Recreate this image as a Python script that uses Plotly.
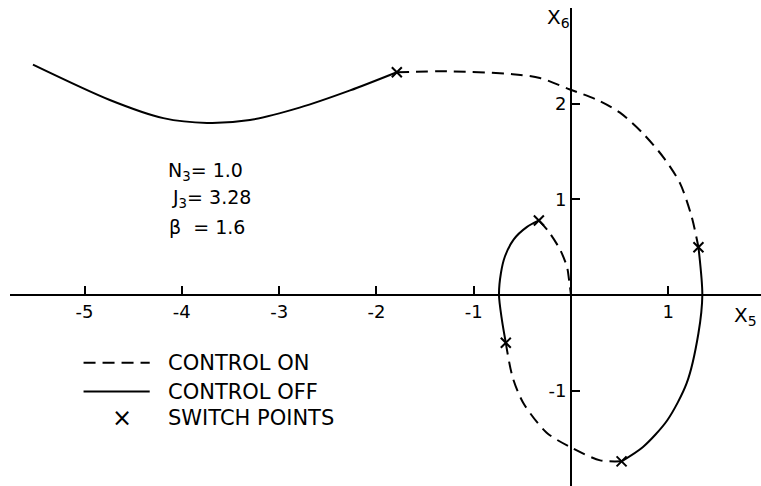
import plotly.graph_objects as go

# Trajectory in the X5-X6 phase plane, split into control-off (solid) and control-on (dashed) arcs
off1_x = [-5.53, -4.74, -4.19, -3.74, -3.30, -2.79, -2.27, -1.79]
off1_y = [2.41, 2.04, 1.85, 1.80, 1.83, 1.96, 2.14, 2.33]

on1_x = [-1.79, -1.27, -0.60, -0.32, -0.01, 0.27, 0.50, 0.74, 0.95, 1.12, 1.24, 1.31]
on1_y = [2.33, 2.34, 2.31, 2.27, 2.15, 2.04, 1.91, 1.69, 1.44, 1.17, 0.82, 0.50]

off2_x = [1.31, 1.35, 1.31, 1.19, 0.99, 0.74, 0.52]
off2_y = [0.50, 0.00, -0.40, -0.92, -1.31, -1.59, -1.74]

on2_x = [0.52, 0.30, 0.01, -0.25, -0.49, -0.60, -0.67]
on2_y = [-1.74, -1.73, -1.60, -1.44, -1.13, -0.86, -0.50]

off3_x = [-0.67, -0.71, -0.74, -0.72, -0.68, -0.59, -0.455, -0.33]
off3_y = [-0.50, -0.26, 0.00, 0.23, 0.40, 0.58, 0.71, 0.78]

on3_x = [-0.33, -0.22, -0.11, -0.04, -0.02, 0.00]
on3_y = [0.78, 0.65, 0.47, 0.29, 0.16, 0.00]

switch_x = [-1.79, 1.31, 0.52, -0.67, -0.33]
switch_y = [2.33, 0.50, -1.74, -0.50, 0.78]

x_ticks = [-5, -4, -3, -2, -1, 1]
y_ticks = [-1, 1, 2]

X_RANGE = [-5.766, 1.953]
Y_RANGE = [-1.998, 3.002]

FONT = "DejaVu Sans"
INK = "black"
DASH = "12px,7px"

fig = go.Figure()

segments = [
    (off1_x, off1_y, "solid"),
    (on1_x, on1_y, DASH),
    (off2_x, off2_y, "solid"),
    (on2_x, on2_y, DASH),
    (off3_x, off3_y, "solid"),
    (on3_x, on3_y, DASH),
]
for sx, sy, dash in segments:
    fig.add_trace(go.Scatter(
        x=sx, y=sy, mode="lines",
        line=dict(color=INK, width=2, dash=dash, shape="spline", smoothing=0.8),
        showlegend=False, hoverinfo="skip",
    ))

fig.add_trace(go.Scatter(
    x=switch_x, y=switch_y, mode="markers",
    marker=dict(symbol="x-thin-open", size=10, color=INK,
                line=dict(color=INK, width=2)),
    showlegend=False, hoverinfo="skip",
))

# axes cross at the origin
x0_frac = (0 - X_RANGE[0]) / (X_RANGE[1] - X_RANGE[0])
y0_frac = (0 - Y_RANGE[0]) / (Y_RANGE[1] - Y_RANGE[0])

fig.update_xaxes(
    range=X_RANGE, anchor="free", position=y0_frac, side="bottom",
    showline=True, linecolor=INK, linewidth=2,
    showgrid=False, zeroline=False,
    tickmode="array", tickvals=x_ticks, ticktext=[str(t) for t in x_ticks],
    ticks="inside", ticklen=8, tickwidth=2, tickcolor=INK,
    tickfont=dict(family=FONT, size=18, color=INK),
)
fig.update_yaxes(
    range=Y_RANGE, anchor="free", position=x0_frac, side="left",
    showline=True, linecolor=INK, linewidth=2,
    showgrid=False, zeroline=False,
    tickmode="array", tickvals=y_ticks, ticktext=[str(t) for t in y_ticks],
    ticks="inside", ticklen=8, tickwidth=2, tickcolor=INK,
    tickfont=dict(family=FONT, size=18, color=INK),
)

annotations = [
    dict(x=-5.77, y=2.38, text="P<sub>1</sub>", xanchor="left", size=21),
    dict(x=-0.27, y=2.90, text="X<sub>6</sub>", xanchor="left", size=20),
    dict(x=1.66, y=-0.22, text="X<sub>5</sub>", xanchor="left", size=20),
    dict(x=-4.16, y=1.29, text="N<sub>3</sub>= 1.0", xanchor="left", size=19),
    dict(x=-4.12, y=1.01, text="J<sub>3</sub>= 3.28", xanchor="left", size=19),
    dict(x=-4.15, y=0.71, text="β&nbsp;&nbsp;= 1.6", xanchor="left", size=19),
]
for a in annotations:
    size = a.pop("size")
    fig.add_annotation(xref="x", yref="y", showarrow=False, yanchor="middle",
                       font=dict(family=FONT, size=size, color=INK), **a)

# hand-built key
key_rows = [("CONTROL ON", DASH), ("CONTROL OFF", "solid"), ("SWITCH POINTS", None)]
key_y = [-0.71, -1.01, -1.29]
for (label, dash), ky in zip(key_rows, key_y):
    if dash is not None:
        fig.add_shape(type="line", xref="x", yref="y",
                      x0=-5.01, x1=-4.33, y0=ky, y1=ky,
                      line=dict(color=INK, width=2, dash=dash))
    else:
        fig.add_annotation(xref="x", yref="y", x=-4.62, y=ky, text="×",
                           showarrow=False, xanchor="center", yanchor="middle",
                           font=dict(family=FONT, size=24, color=INK))
    fig.add_annotation(xref="x", yref="y", x=-4.16, y=ky, text=label,
                       showarrow=False, xanchor="left", yanchor="middle",
                       font=dict(family=FONT, size=21, color=INK))

fig.update_layout(
    width=761, height=486,
    margin=dict(l=10, r=0, t=8, b=0),
    paper_bgcolor="white", plot_bgcolor="white",
    showlegend=False,
)

fig.write_html("out.html")
